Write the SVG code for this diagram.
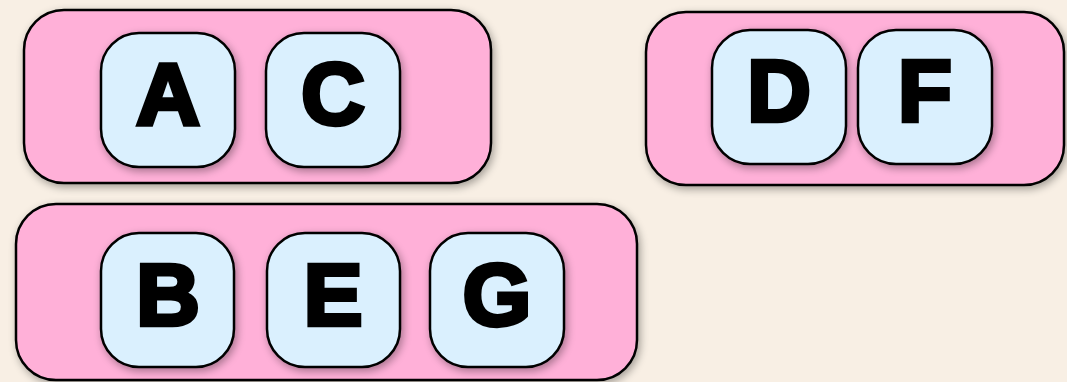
<svg xmlns="http://www.w3.org/2000/svg" width="1067" height="382" viewBox="0 0 1067 382">
<defs>
<filter id="sh" x="-20%" y="-20%" width="140%" height="140%">
<feGaussianBlur in="SourceAlpha" stdDeviation="4"/>
<feOffset dx="2" dy="3" result="b"/>
<feComponentTransfer><feFuncA type="linear" slope="0.35"/></feComponentTransfer>
<feMerge><feMergeNode/><feMergeNode in="SourceGraphic"/></feMerge>
</filter>
<style>
.grp{fill:#ffb0d8;stroke:#000;stroke-width:2.5}
.node{fill:#daf0fe;stroke:#000;stroke-width:2.5}
.lbl{font-family:"Liberation Sans",Arial,sans-serif;font-weight:bold;font-size:88px;fill:#000;stroke:#000;stroke-width:4.5;stroke-linejoin:miter;text-anchor:middle}
</style>
</defs>
<rect width="1067" height="382" fill="#f8efe4"/>
<g id="group1">
<rect class="grp" x="24" y="10" width="467" height="173" rx="40" filter="url(#sh)"/>
</g>
<g id="group2">
<rect class="grp" x="646" y="12" width="418" height="173" rx="40" filter="url(#sh)"/>
</g>
<g id="group3">
<rect class="grp" x="16" y="204" width="621" height="176" rx="40" filter="url(#sh)"/>
</g>
<g id="A"><rect class="node" x="101" y="33" width="134" height="134" rx="38" filter="url(#sh)"/><text class="lbl" x="168" y="124">A</text></g>
<g id="C"><rect class="node" x="266" y="33" width="134" height="134" rx="38" filter="url(#sh)"/><text class="lbl" x="333" y="124">C</text></g>
<g id="D"><rect class="node" x="712" y="30" width="134" height="134" rx="38" filter="url(#sh)"/><text class="lbl" x="779" y="121">D</text></g>
<g id="F"><rect class="node" x="858" y="30" width="134" height="134" rx="38" filter="url(#sh)"/><text class="lbl" x="925" y="121">F</text></g>
<g id="B"><rect class="node" x="101" y="233" width="133" height="134" rx="38" filter="url(#sh)"/><text class="lbl" x="168" y="325">B</text></g>
<g id="E"><rect class="node" x="267" y="233" width="133" height="134" rx="38" filter="url(#sh)"/><text class="lbl" x="333" y="325">E</text></g>
<g id="G"><rect class="node" x="430" y="233" width="134" height="134" rx="38" filter="url(#sh)"/><text class="lbl" x="497" y="325">G</text></g>
<g id="connectors"/>
</svg>
